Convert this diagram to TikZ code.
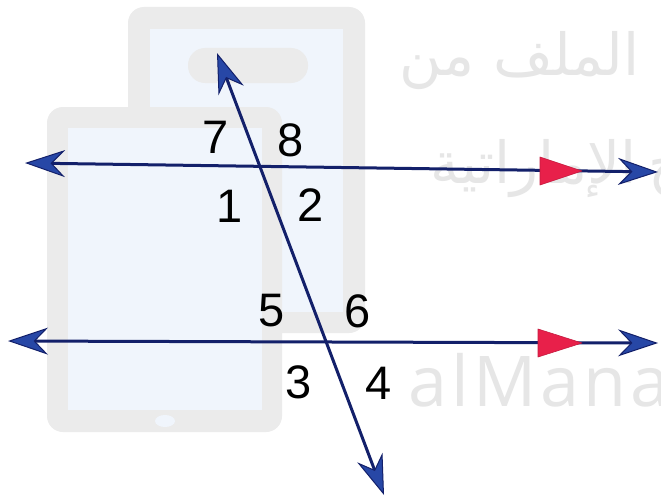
\documentclass[tikz,border=0pt]{standalone}
\usepackage{fontspec}
\setmainfont{Liberation Sans}
\newfontfamily\arabicfont[Script=Arabic]{DejaVu Sans}
\newfontfamily\wmfont[LetterSpace=6]{Open Sans}
\TeXXeTstate=1
\usetikzlibrary{arrows.meta}
\definecolor{navy}{HTML}{13206A}
\definecolor{tipblue}{HTML}{2747A6}
\definecolor{mred}{HTML}{E8204A}
\definecolor{bezel}{HTML}{EBEBEB}
\definecolor{screen}{HTML}{F0F5FC}
\definecolor{wm}{HTML}{E6E6E6}
\begin{document}
\begin{tikzpicture}[x=1pt,y=-1pt,
  tip/.tip={Stealth[length=40pt,width=27pt,inset=13pt,fill=tipblue,line width=1pt]},
  geoline/.style={draw=navy,line width=3pt,tip-tip},
  lbl/.style={font=\fontsize{47}{47}\selectfont,inner sep=0pt,text=black},
  parmark/.style={fill=mred,draw=mred!85!black,line width=0.6pt,line join=round},
  wmar/.style={text=wm,inner sep=0pt,font=\arabicfont\fontsize{58}{58}\selectfont},
  wmlat/.style={text=wm,inner sep=0pt,font=\wmfont\fontsize{70}{70}\selectfont}]
\useasboundingbox (0,0) rectangle (661,503);
\clip (0,0) rectangle (661,503);
\fill[white] (0,0) rectangle (661,503);
% watermark: tablets
\fill[bezel,rounded corners=16pt] (128,7) rectangle (365,333);
\fill[screen] (150,29) rectangle (343,312);
\fill[bezel,rounded corners=17pt] (188,48) rectangle (308,83);
\fill[bezel,rounded corners=16pt] (47,107) rectangle (282,432);
\fill[screen] (68,128) rectangle (262,410);
\fill[screen] (165,421) ellipse (10pt and 6pt);
% watermark: text
\node[wmar,anchor=base east] (wm1) at (640,75) {\beginR الملف من\endR};
\node[wmar,anchor=base east] (wm2) at (637,183) {\beginR الإماراتية\endR};
\node[wmar,anchor=base west] (wm3) at (648,183) {\beginR المناهج\endR};
\node[wmlat,anchor=base west] (wm4) at (408,406) {alManahj};
% geometry
\coordinate (tl) at (25,163);
\coordinate (tr) at (658,172);
\coordinate (bl) at (8,341);
\coordinate (br) at (658,343);
\coordinate (tt) at (217,53);
\coordinate (tb) at (384,495);
\draw[geoline] (tl) -- (tr);
\draw[geoline] (bl) -- (br);
\draw[geoline] (tt) -- (tb);
\fill[parmark] (540,157) -- (582,171) -- (540,185) -- cycle;
\fill[parmark] (538,329) -- (582,343) -- (538,357) -- cycle;
% angle labels
\node[lbl] (a7) at (216,137) {7};
\node[lbl] (a8) at (291,140) {8};
\node[lbl] (a1) at (230,206) {1};
\node[lbl] (a2) at (311,205) {2};
\node[lbl] (a5) at (272,311) {5};
\node[lbl] (a6) at (358,311) {6};
\node[lbl] (a3) at (299,382) {3};
\node[lbl] (a4) at (379,383) {4};
\end{tikzpicture}
\end{document}
